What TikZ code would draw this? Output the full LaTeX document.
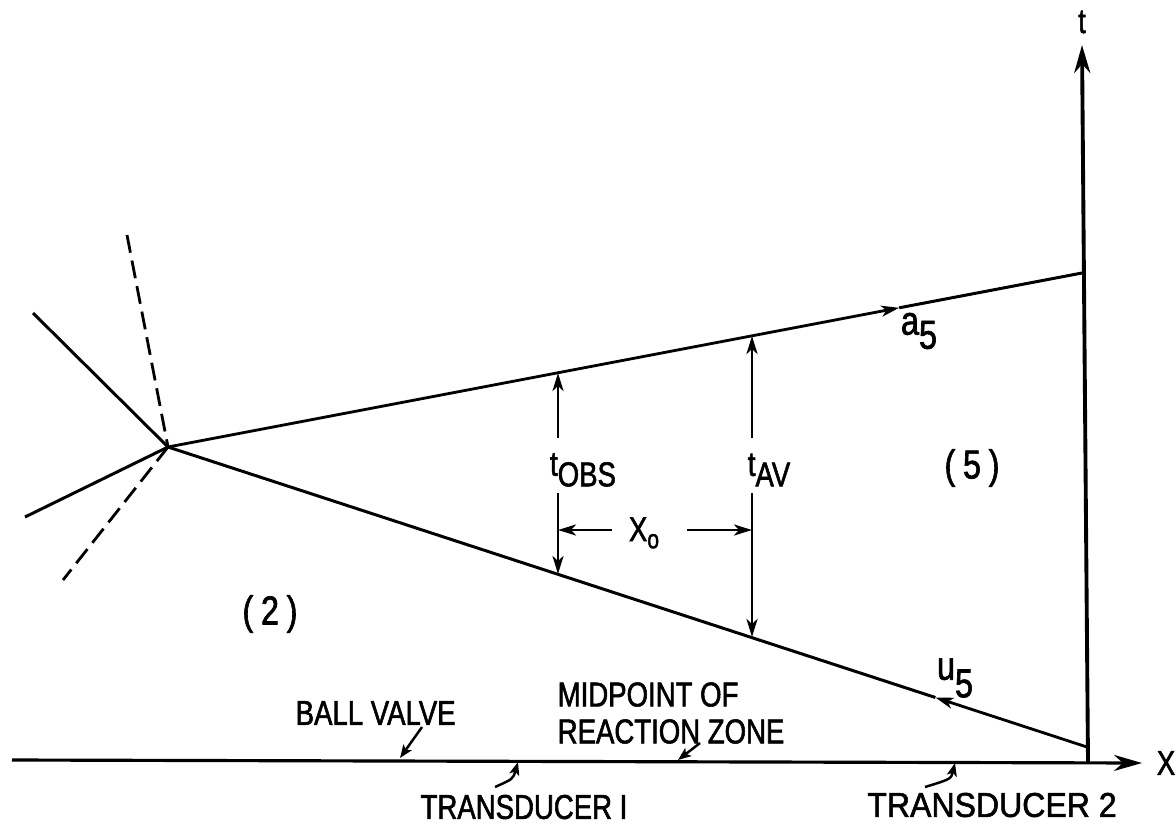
\documentclass[tikz,border=0pt]{standalone}
\usepackage{fontspec}
\newfontfamily\lblfont{Liberation Sans}[FakeStretch=0.80, FakeBold=1.6]
\newfontfamily\lblwide{Liberation Sans}[FakeStretch=0.93, FakeBold=1.6]
\usetikzlibrary{arrows.meta, positioning, calc}

\begin{document}
\begin{tikzpicture}[
			x=0.01cm, y=-0.01cm,
			ray/.style={draw=black, line width=0.85pt},
			dashray/.style={draw=black, line width=0.8pt, dash pattern=on 0.18cm off 0.08cm},
			axisarrow/.style={draw=black, line width=0.9pt, -{Stealth[length=2.8mm, width=1.6mm, inset=0.9mm]}},
			dimline/.style={draw=black, line width=0.8pt, -{Stealth[length=1.8mm, width=1.1mm, inset=0.5mm]}},
			pointer/.style={draw=black, line width=0.7pt, -{Stealth[length=1.3mm, width=1mm, inset=0.3mm]}},
			lbl/.style={font=\lblfont\fontsize{9.8}{10.5}\selectfont, inner sep=0pt},
			big/.style={font=\lblfont\fontsize{11.5}{12}\selectfont, inner sep=0pt}
			]
			\useasboundingbox (0,0) rectangle (1176,824);
			% wave diagram
			\coordinate (apex) at (168,447);
			\coordinate (top) at (1082,273);
			\coordinate (bot) at (1087,747);
			\coordinate (origin) at (1088,762);
			\coordinate (ttip) at (1082,45);
			\coordinate (xstart) at (12,760);
			\coordinate (xtip) at (1142,763);
			\coordinate (ul) at (33,313);
			\coordinate (ll) at (25,517);
			\coordinate (du) at (127,235);
			\coordinate (dl) at (63,580);
			\coordinate (atip) at ($(apex)!0.8!(top)$);
			\coordinate (utip) at ($(apex)!0.835!(bot)$);
			\draw[ray] (ul) -- (apex);
			\draw[ray] (ll) -- (apex);
			\draw[dashray] (du) -- (apex);
			\draw[dashray] (apex) -- (dl);
			\draw[dimline] (apex) -- (atip);
			\draw[ray] (atip) -- (top);
			\draw[dimline] (bot) -- (utip);
			\draw[ray] (utip) -- (apex);
			% axes
			\draw[axisarrow] (xstart) -- (xtip);
			\draw[axisarrow, line width=1.1pt] (origin) -- (ttip);
			\node[lbl] (xlab) at (1166,763) {X};
			\node[lbl] (tlab) at (1082,22) {t};
			% region labels
			\node[big] (r2) at (270,614) {(\kern2.2pt2\kern2.2pt)};
			\node[big] (r5) at (972,468) {(\kern2.2pt5\kern2.2pt)};
			\node[big] (a5) at (919,331) {a\raisebox{-4pt}{5}};
			\node[big] (u5) at (955,678) {u\raisebox{-5pt}{5}};
			% time intervals
			\foreach \nm/\x/\yt/\yb/\sub/\lx in {obs/558/373/574/OBS/583, av/752/336/637/AV/769}{
				\coordinate (\nm T) at (\x,\yt);
				\coordinate (\nm B) at (\x,\yb);
				\coordinate (\nm U) at (\x,438);
				\coordinate (\nm D) at (\x,493);
				\node[lbl] (t\nm) at (\lx,470) {t\raisebox{-3pt}{\sub}};
				\draw[dimline] (\nm U) -- (\nm T);
				\draw[dimline] (\nm D) -- (\nm B);
			}
			\node[lbl] (xo) at (644,533) {X\raisebox{-2pt}{\fontsize{7.5}{8}\selectfont o}};
			\coordinate (xoL) at (612,530);
			\coordinate (xoR) at (687,530);
			\draw[dimline] (xoL) -- (obsT |- xoL);
			\draw[dimline] (xoR) -- (avT |- xoR);
			% station labels
			\node[lbl, anchor=west] (ball) at (295,713) {BALL VALVE};
			\node[lbl, anchor=west, align=left] (midpt) at (557,713) {MIDPOINT OF\\REACTION ZONE};
			\node[lbl] (tdone) at (524,807) {TRANSDUCER I};
			\node[lbl, font=\lblwide\fontsize{9.8}{10.5}\selectfont] (tdtwo) at (992,805) {TRANSDUCER 2};
			\coordinate (ballT) at (422,727);
			\coordinate (ballP) at (400,758);
			\coordinate (midT) at (700,743);
			\coordinate (midP) at (678,760);
			\coordinate (oneT) at (495,787);
			\coordinate (oneP) at (518,762);
			\coordinate (twoT) at (925,787);
			\coordinate (twoP) at (955,763);
			\draw[pointer] (ballT) -- (ballP);
			\draw[pointer] (midT) -- (midP);
			\draw[pointer] (oneT) .. controls (513,779) .. (oneP);
			\draw[pointer] (twoT) .. controls (951,779) .. (twoP);
		\end{tikzpicture}
\end{document}
